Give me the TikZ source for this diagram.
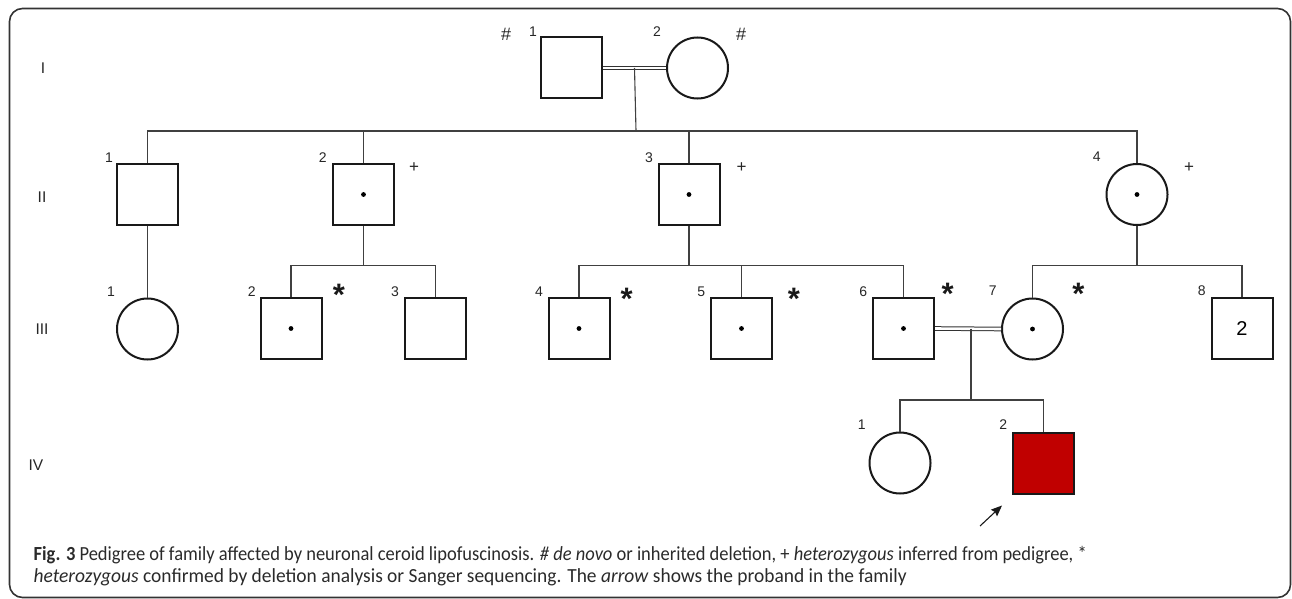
\documentclass[tikz,border=0pt]{standalone}
\usepackage{graphicx}
\usepackage{fontspec}
\setmainfont{Liberation Sans}
\newfontfamily\capfont{Carlito}
\usetikzlibrary{calc,arrows.meta}
\definecolor{linegray}{HTML}{404040}
\definecolor{affred}{HTML}{C00000}
\definecolor{captext}{HTML}{2A2A2A}
\definecolor{framegray}{HTML}{333333}
\begin{document}
\begin{tikzpicture}[x=1pt,y=-1pt,
  indiv/.style={draw=black!90, line width=2pt, inner sep=0pt, minimum size=61pt, fill=white},
  male/.style={indiv, rectangle},
  female/.style={indiv, circle},
  carrier/.style={path picture={\fill[black] (path picture bounding box.center) circle (2.4pt);}},
  affected/.style={fill=affred},
  conn/.style={draw=linegray, line width=1.1pt},
  marr/.style={draw=black!80, line width=1pt, double=white, double distance=2.6pt},
  numlbl/.style={font=\fontsize{14}{14}\selectfont, inner sep=0pt, anchor=north, text=black!85},
  pluslbl/.style={font=\fontsize{17}{17}\selectfont, inner sep=0pt, anchor=north, text=black!85},
  hashlbl/.style={font=\fontsize{18}{18}\selectfont, inner sep=0pt, anchor=north, text=black!85},
  starlbl/.style={font=\fontsize{31}{31}\selectfont\bfseries, inner sep=0pt, anchor=north, text=black!90},
  genlbl/.style={font=\fontsize{15.5}{15.5}\selectfont, inner sep=0pt, text=black!85},
  captxt/.style={font=\capfont\fontsize{20}{20}\selectfont, inner sep=0pt, anchor=base west, text=captext},
]
\useasboundingbox (0,0) rectangle (1292,599);
\draw[framegray, line width=1.6pt, rounded corners=13pt] (9.5,8.5) rectangle (1290.5,597.5);

% generation labels
\node[genlbl] (gI) at (43,68) {I};
\node[genlbl] (gII) at (42,197) {II};
\node[genlbl] (gIII) at (42,329) {III};
\node[genlbl] (gIV) at (36,465) {IV};

% individuals
\node[male] (I1) at (571.5,68) {};
\node[female] (I2) at (697.5,68) {};

\node[male] (II1) at (147.5,194.5) {};
\node[male,carrier] (II2) at (363.5,194.5) {};
\node[male,carrier] (II3) at (689,194.5) {};
\node[female,carrier] (II4) at (1137,194.5) {};

\node[female] (III1) at (147.5,329) {};
\node[male,carrier] (III2) at (291,328.5) {};
\node[male] (III3) at (435.5,328.5) {};
\node[male,carrier] (III4) at (579,328.5) {};
\node[male,carrier] (III5) at (741.5,328.5) {};
\node[male,carrier] (III6) at (903.5,328.5) {};
\node[female,carrier] (III7) at (1032.5,329) {};
\node[male,font=\fontsize{20}{20}\selectfont] (III8) at (1242,328.5) {2};

\node[female] (IV1) at (900,463) {};
\node[male,affected] (IV2) at (1043.5,463) {};

% numbers
\node[numlbl] (I1n) at (533,26.7) {1};
\node[numlbl] (I2n) at (657,26.7) {2};
\node[numlbl] (II1n) at (109,152.7) {1};
\node[numlbl] (II2n) at (322.7,152.7) {2};
\node[numlbl] (II3n) at (649,152.7) {3};
\node[numlbl] (II4n) at (1096.7,152) {4};
\node[numlbl] (III1n) at (111,286.7) {1};
\node[numlbl] (III2n) at (251.7,286.7) {2};
\node[numlbl] (III3n) at (395,286.7) {3};
\node[numlbl] (III4n) at (539,286.7) {4};
\node[numlbl] (III5n) at (701.3,286.7) {5};
\node[numlbl] (III6n) at (863.3,286.7) {6};
\node[numlbl] (III7n) at (992.7,285.5) {7};
\node[numlbl] (III8n) at (1201.7,285.5) {8};
\node[numlbl] (IV1n) at (861.7,420) {1};
\node[numlbl] (IV2n) at (1003.3,420) {2};

% annotations
\node[hashlbl] (I1h) at (506,27.7) {\#};
\node[hashlbl] (I2h) at (741,27.7) {\#};
\node[pluslbl] (II2p) at (414,162.7) {+};
\node[pluslbl] (II3p) at (741.7,162.7) {+};
\node[pluslbl] (II4p) at (1189,162.5) {+};
\node[starlbl] (III2s) at (339,283.5) {*};
\node[starlbl] (III4s) at (626.7,287.5) {*};
\node[starlbl] (III5s) at (794,287.5) {*};
\node[starlbl] (III6s) at (947.7,282.5) {*};
\node[starlbl] (III7s) at (1078.3,282.5) {*};

% marriages and descent
\draw[marr] (I1.east) -- (I2.west);
\coordinate (mI) at ($(I1.east)!0.5!(I2.west)$);
\coordinate (sI) at (636,131);
\draw[conn] (mI) -- (sI);
\draw[conn] (sI) -| (II1.north);
\draw[conn] (sI) -| (II2.north);
\draw[conn] (sI) -| (II3.north);
\draw[conn] (sI) -| (II4.north);

\draw[conn] (II1.south) -- (III1.north);

\coordinate (sII2) at (363.5,265.7);
\draw[conn] (II2.south) -- (sII2);
\draw[conn] (sII2) -| (III2.north);
\draw[conn] (sII2) -| (III3.north);

\coordinate (sII3) at (689,265.7);
\draw[conn] (II3.south) -- (sII3);
\draw[conn] (sII3) -| (III4.north);
\draw[conn] (sII3) -| (III5.north);
\draw[conn] (sII3) -| (III6.north);

\coordinate (sII4) at (1137,265.7);
\draw[conn] (II4.south) -- (sII4);
\draw[conn] (sII4) -| (III7.north);
\draw[conn] (sII4) -| (III8.north);

\draw[marr] (III6.east) -- (III7.west);
\coordinate (mIII) at (971,328.5);
\coordinate (sIII) at (971,400);
\draw[conn] (mIII) -- (sIII);
\draw[conn] (sIII) -| (IV1.north);
\draw[conn] (sIII) -| (IV2.north);

% proband arrow
\coordinate (arrTail) at (980,526);
\coordinate (arrTip) at ($(IV2.south west)+(-10,11)$);
\draw[black!90, line width=1.1pt, -{Stealth[length=11pt,width=9pt,inset=1.5pt]}] (arrTail) -- (arrTip);

% caption
\node[captxt] (cap1) at (33.5,560.5) {\resizebox{1053pt}{\height}{\textbf{Fig. 3} Pedigree of family affected by neuronal ceroid lipofuscinosis. \textit{\# de novo} or inherited deletion, + \textit{heterozygous} inferred from pedigree, *}};
\node[captxt] (cap2) at (33.5,582) {\resizebox{873pt}{\height}{\textit{heterozygous} confirmed by deletion analysis or Sanger sequencing. The \textit{arrow} shows the proband in the family}};
\end{tikzpicture}
\end{document}
